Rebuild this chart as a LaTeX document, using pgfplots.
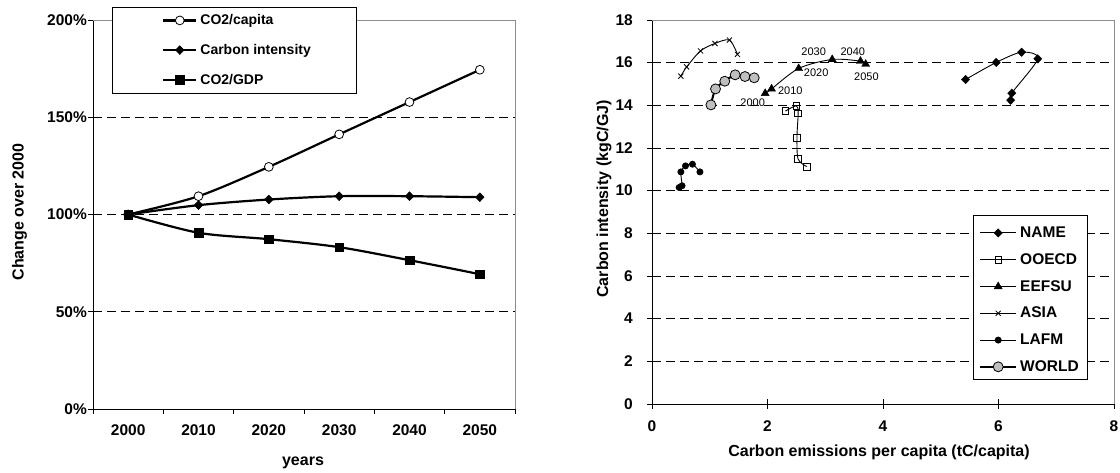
\documentclass[border=0pt]{standalone}
\usepackage{fontspec}
\setmainfont{Liberation Sans}
\usepackage{pgfplots}
\pgfplotsset{compat=1.18}

\definecolor{framegray}{gray}{0.55}
\definecolor{worldfill}{gray}{0.75}

\newcommand{\tickfont}{\fontsize{15.5}{18}\selectfont\bfseries}
\newcommand{\labelfont}{\fontsize{16}{19}\selectfont\bfseries}

\pgfplotsset{
  chartbase/.style={
    scale only axis, clip=false,
    axis x line=bottom, axis y line=left,
    axis line style={-, black, line width=0.9pt},
    tick style={black, line width=0.8pt},
    ymajorgrids,
    grid style={black, line width=0.8pt, dash pattern=on 9pt off 5pt},
    tick label style={font=\tickfont},
    /pgf/number format/assume math mode=true,
    legend cell align=left,
  },
}

% Emission scenarios: index values (2000 = 100%)
\pgfplotstableread{
  idx capita intensity gdp
  0   100.0  100.0     100.0
  1   109.4  104.8      90.6
  2   124.5  107.7      87.3
  3   141.2  109.4      83.2
  4   157.8  109.4      76.5
  5   174.4  108.9      69.3
}\indextable

\begin{document}
\begin{tikzpicture}
\useasboundingbox (0,0) rectangle (1120pt,473pt);

% ---------------- left panel ----------------
\begin{axis}[chartbase,
  at={(93pt,64pt)}, anchor=south west, width=422pt, height=389pt,
  xmin=-0.5, xmax=5.5, ymin=0, ymax=200,
  xtick={-0.5,0.5,...,5.5}, xticklabels={},
  extra x ticks={0,1,2,3,4,5},
  extra x tick labels={2000,2010,2020,2030,2040,2050},
  extra x tick style={major tick length=0pt, xticklabel style={yshift=-12pt}},
  ytick={0,50,100,150,200},
  yticklabels={0\%,50\%,100\%,150\%,200\%},
  tick align=outside, major tick length=5pt,
  yticklabel style={anchor=east, inner sep=0pt, xshift=-1pt},
  legend style={at={(0.1635,1.0144)}, anchor=north west, draw=none,
    fill=none, inner sep=0pt, row sep=18pt,
    font=\fontsize{14}{16}\selectfont\bfseries,
    nodes={inner xsep=3pt, inner ysep=0pt}},
  legend image code/.code={
    \draw[#1, mark=none] (0pt,0pt) -- (33pt,0pt);
    \draw[#1] plot coordinates {(16.5pt,0pt)};},
]
\draw[framegray, line width=0.9pt] (rel axis cs:0,1) -- (rel axis cs:1,1) -- (rel axis cs:1,0);
\draw[black, line width=0.8pt, fill=white] (rel axis cs:0.045,0.8123) rectangle (rel axis cs:0.6232,1.0334);

\addplot[black, line width=2.2pt, smooth, tension=0.5, mark=*, mark size=4.4pt,
  mark options={fill=white, line width=0.8pt}] table[x=idx, y=capita] {\indextable};
\addlegendentry{CO2/capita}
\addplot[black, line width=2.2pt, smooth, tension=0.5, mark=diamond*, mark size=4.4pt,
  mark options={xscale=1.3, line width=0.5pt}] table[x=idx, y=intensity] {\indextable};
\addlegendentry{Carbon intensity}
\addplot[black, line width=2.2pt, smooth, tension=0.5, mark=square*, mark size=4.3pt,
  mark options={line width=0.5pt}] table[x=idx, y=gdp] {\indextable};
\addlegendentry{CO2/GDP}
\end{axis}

\node[rotate=90, font=\labelfont] at (19.5pt,261pt) {Change over 2000};
\node[font=\labelfont] at (303pt,10pt) {years};

% ---------------- right panel ----------------
\begin{axis}[chartbase,
  at={(652pt,69pt)}, anchor=south west, width=462pt, height=384pt,
  xmin=0, xmax=8, ymin=0, ymax=18,
  xtick={0,2,4,6,8}, ytick={0,2,...,18},
  tick align=center, major tick length=10pt,
  xticklabel style={yshift=-8pt},
  yticklabel style={anchor=east, inner sep=0pt, xshift=-14pt},
  legend style={at={(0.7078,0.4618)}, anchor=north west, draw=none,
    fill=none, inner sep=0pt, row sep=14.5pt,
    font=\fontsize{15.5}{18}\selectfont\bfseries,
    nodes={inner xsep=3pt, inner ysep=0pt}},
  legend image code/.code={
    \draw[#1, mark=none] (0pt,0pt) -- (36pt,0pt);
    \draw[#1] plot coordinates {(18pt,0pt)};},
  every axis plot/.append style={black, line width=0.9pt, smooth, tension=0.5},
]
\draw[framegray, line width=0.9pt] (rel axis cs:0,1) -- (rel axis cs:1,1) -- (rel axis cs:1,0);
\draw[black, line width=0.8pt, fill=white] (rel axis cs:0.6948,0.0651) rectangle (rel axis cs:0.9416,0.4922);

\addplot[mark=diamond*, mark size=4.2pt, mark options={xscale=1.3, line width=0.4pt}]
  coordinates {(5.43,15.21) (5.96,16.01) (6.40,16.49) (6.68,16.18) (6.23,14.57) (6.21,14.24)};
\addlegendentry{NAME}
\addplot[mark=square, mark size=3.3pt, mark options={fill=white, line width=0.7pt}]
  coordinates {(2.31,13.73) (2.50,13.98) (2.53,13.62) (2.51,12.48) (2.53,11.48) (2.68,11.13)};
\addlegendentry{OOECD}
\addplot[mark=triangle*, mark size=4.6pt, mark options={line width=0.4pt}]
  coordinates {(1.96,14.56) (2.07,14.77) (2.54,15.73) (3.12,16.15) (3.61,16.07) (3.70,15.93)};
\addlegendentry{EEFSU}
\addplot[mark=x, mark size=3.6pt, mark options={line width=0.8pt}]
  coordinates {(0.50,15.37) (0.60,15.80) (0.84,16.55) (1.09,16.90) (1.34,17.06) (1.48,16.39)};
\addlegendentry{ASIA}
\addplot[mark=*, mark size=3pt]
  coordinates {(0.47,10.15) (0.52,10.23) (0.50,10.88) (0.58,11.16) (0.70,11.24) (0.83,10.88)};
\addlegendentry{LAFM}
\addplot[line width=2pt, mark=*, mark size=5pt, mark options={fill=worldfill, line width=0.8pt}]
  coordinates {(1.02,14.02) (1.10,14.77) (1.26,15.13) (1.44,15.43) (1.61,15.35) (1.77,15.29)};
\addlegendentry{WORLD}

% year annotations along the EEFSU path
\begin{scope}[every node/.style={font=\fontsize{11}{13}\selectfont, inner sep=0pt}]
\node[xshift=-12.5pt, yshift=-9.4pt] at (axis cs:1.96,14.56) {2000};
\node[xshift=18.8pt, yshift=-2.3pt]  at (axis cs:2.07,14.77) {2010};
\node[xshift=17.5pt, yshift=-4.4pt]  at (axis cs:2.54,15.73) {2020};
\node[xshift=-18.5pt, yshift=7.6pt]  at (axis cs:3.12,16.15) {2030};
\node[xshift=-7.7pt, yshift=9.3pt]   at (axis cs:3.61,16.07) {2040};
\node[xshift=0.8pt, yshift=-12.7pt]  at (axis cs:3.70,15.93) {2050};
\end{scope}
\end{axis}

\node[rotate=90, font=\labelfont] at (604pt,274pt) {Carbon intensity (kgC/GJ)};
\node[font=\labelfont] at (879pt,21pt) {Carbon emissions per capita (tC/capita)};
\end{tikzpicture}
\end{document}
